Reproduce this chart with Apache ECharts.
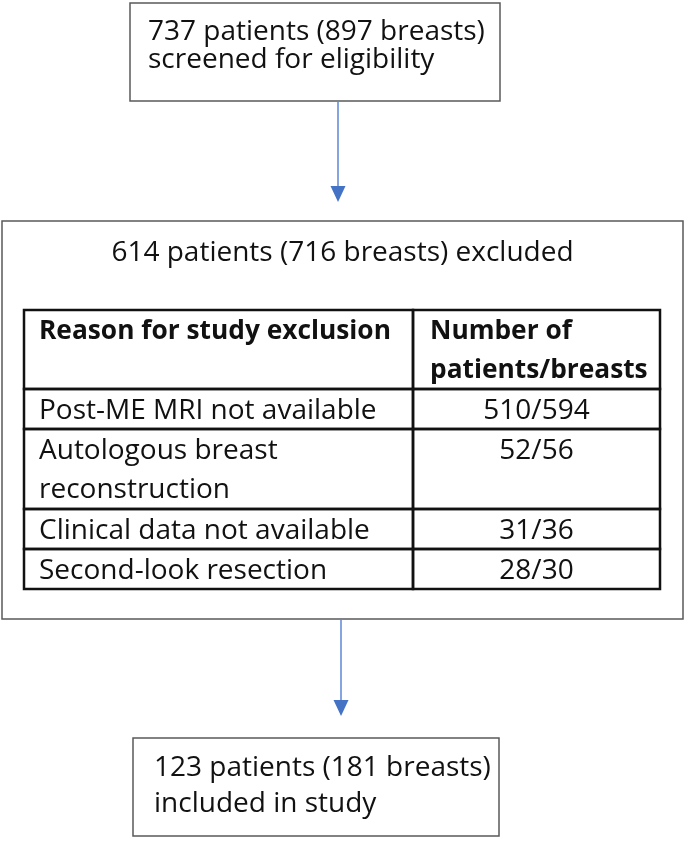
<!DOCTYPE html>
<html>
<head>
<meta charset="utf-8">
<script src="https://cdn.jsdelivr.net/npm/echarts@6/dist/echarts.min.js"></script>
<style>
  html, body { margin: 0; padding: 0; background: #fff; }
  #chart { width: 685px; height: 841px; }
</style>
</head>
<body>
<div id="chart"></div>
<script>
  // flow stages: screened -> excluded -> included
  const stagePatients = [737, 614, 123];
  const stageBreasts = [897, 716, 181];
  const stageNotes = ['screened for eligibility', 'excluded', 'included in study'];

  // exclusion table
  const tableHeaders = ['Reason for study exclusion', 'Number of\npatients/breasts'];
  const reasons = ['Post-ME MRI not available', 'Autologous breast\nreconstruction', 'Clinical data not available', 'Second-look resection'];
  const reasonPatients = [510, 52, 31, 28];
  const reasonBreasts = [594, 56, 36, 30];

  // layout, in page units (the hidden axes run 0..685 and 0..841)
  const boxes = [
    { x0: 130, y0: 3, x1: 500, y1: 101 },
    { x0: 2, y0: 221, x1: 683, y1: 619 },
    { x0: 133, y0: 738, x1: 499, y1: 836 }
  ];
  const arrows = [
    { x: 338, y0: 101, y1: 202 },
    { x: 341, y0: 619, y1: 716 }
  ];
  const tableX = [24, 413, 660];
  const rowY = [310, 389, 429, 509, 549, 589];

  const FONT = '"Open Sans", sans-serif';
  const FS = 28;
  const FS_BOLD = 26.3;
  const TEXT = '#111';

  function rectOf(api, x0, y0, x1, y1) {
    const a = api.coord([x0, y0]), b = api.coord([x1, y1]);
    return { x: a[0], y: a[1], width: b[0] - a[0], height: b[1] - a[1] };
  }

  // yFirst = centre of the first line
  function textEl(api, txt, x, yFirst, align, bold, lh) {
    const p = api.coord([x, yFirst]);
    return {
      type: 'text',
      style: {
        text: txt, x: p[0], y: p[1] - lh / 2,
        font: bold ? 'bold ' + FS_BOLD + 'px ' + FONT : FS + 'px ' + FONT,
        fill: TEXT, align: align, verticalAlign: 'top', lineHeight: lh
      }
    };
  }

  function renderBox(params, api) {
    const i = api.value(0);
    const b = boxes[i];
    const kids = [{
      type: 'rect', shape: rectOf(api, b.x0, b.y0, b.x1, b.y1),
      style: { fill: '#fff', stroke: '#5a5a5a', lineWidth: 1.5 }
    }];
    const head = stagePatients[i] + ' patients (' + stageBreasts[i] + ' breasts)';
    if (i === 1) {
      kids.push(textEl(api, head + ' ' + stageNotes[i], (b.x0 + b.x1) / 2, 253, 'center', false, 36));
    } else if (i === 0) {
      kids.push(textEl(api, head + '\n' + stageNotes[i], b.x0 + 18, 32, 'left', false, 28));
    } else {
      kids.push(textEl(api, head + '\n' + stageNotes[i], b.x0 + 21, 768, 'left', false, 36));
    }
    return { type: 'group', children: kids };
  }

  function renderArrow(params, api) {
    const a = arrows[api.value(0)];
    const s = api.coord([a.x, a.y0]), t = api.coord([a.x, a.y1]);
    const h = api.coord([a.x, a.y1 - 16]);
    return {
      type: 'group',
      children: [
        { type: 'line', shape: { x1: s[0], y1: s[1], x2: h[0], y2: h[1] },
          style: { stroke: '#5b87d6', lineWidth: 1.5 } },
        { type: 'polygon', shape: { points: [[t[0], t[1]], [h[0] - 7.5, h[1]], [h[0] + 7.5, h[1]]] },
          style: { fill: '#4472c4' } }
      ]
    };
  }

  function renderRow(params, api) {
    const r = api.value(0);
    const top = rowY[r], bot = rowY[r + 1];
    const kids = [];
    for (let c = 0; c < 2; c++) {
      kids.push({
        type: 'rect', shape: rectOf(api, tableX[c], top, tableX[c + 1], bot),
        style: { fill: 'none', stroke: '#111', lineWidth: 2.5 }
      });
    }
    const firstLine = top + 22;
    const LHT = 39;
    if (r === 0) {
      kids.push(textEl(api, tableHeaders[0], tableX[0] + 15, firstLine, 'left', true, LHT));
      kids.push(textEl(api, tableHeaders[1], tableX[1] + 17, firstLine, 'left', true, LHT));
    } else {
      kids.push(textEl(api, reasons[r - 1], tableX[0] + 15, firstLine, 'left', false, LHT));
      kids.push(textEl(api, reasonPatients[r - 1] + '/' + reasonBreasts[r - 1], (tableX[1] + tableX[2]) / 2, firstLine, 'center', false, LHT));
    }
    return { type: 'group', children: kids };
  }

  const chart = echarts.init(document.getElementById('chart'));
  chart.setOption({
    backgroundColor: '#fff',
    animation: false,
    grid: { left: 0, right: 0, top: 0, bottom: 0 },
    xAxis: { type: 'value', min: 0, max: 685, show: false },
    yAxis: { type: 'value', min: 0, max: 841, inverse: true, show: false },
    series: [
      { type: 'custom', renderItem: renderBox, data: [[0], [1], [2]], z: 1 },
      { type: 'custom', renderItem: renderRow, data: [[0], [1], [2], [3], [4]], z: 2 },
      { type: 'custom', renderItem: renderArrow, data: [[0], [1]], z: 3 }
    ]
  });
</script>
</body>
</html>
